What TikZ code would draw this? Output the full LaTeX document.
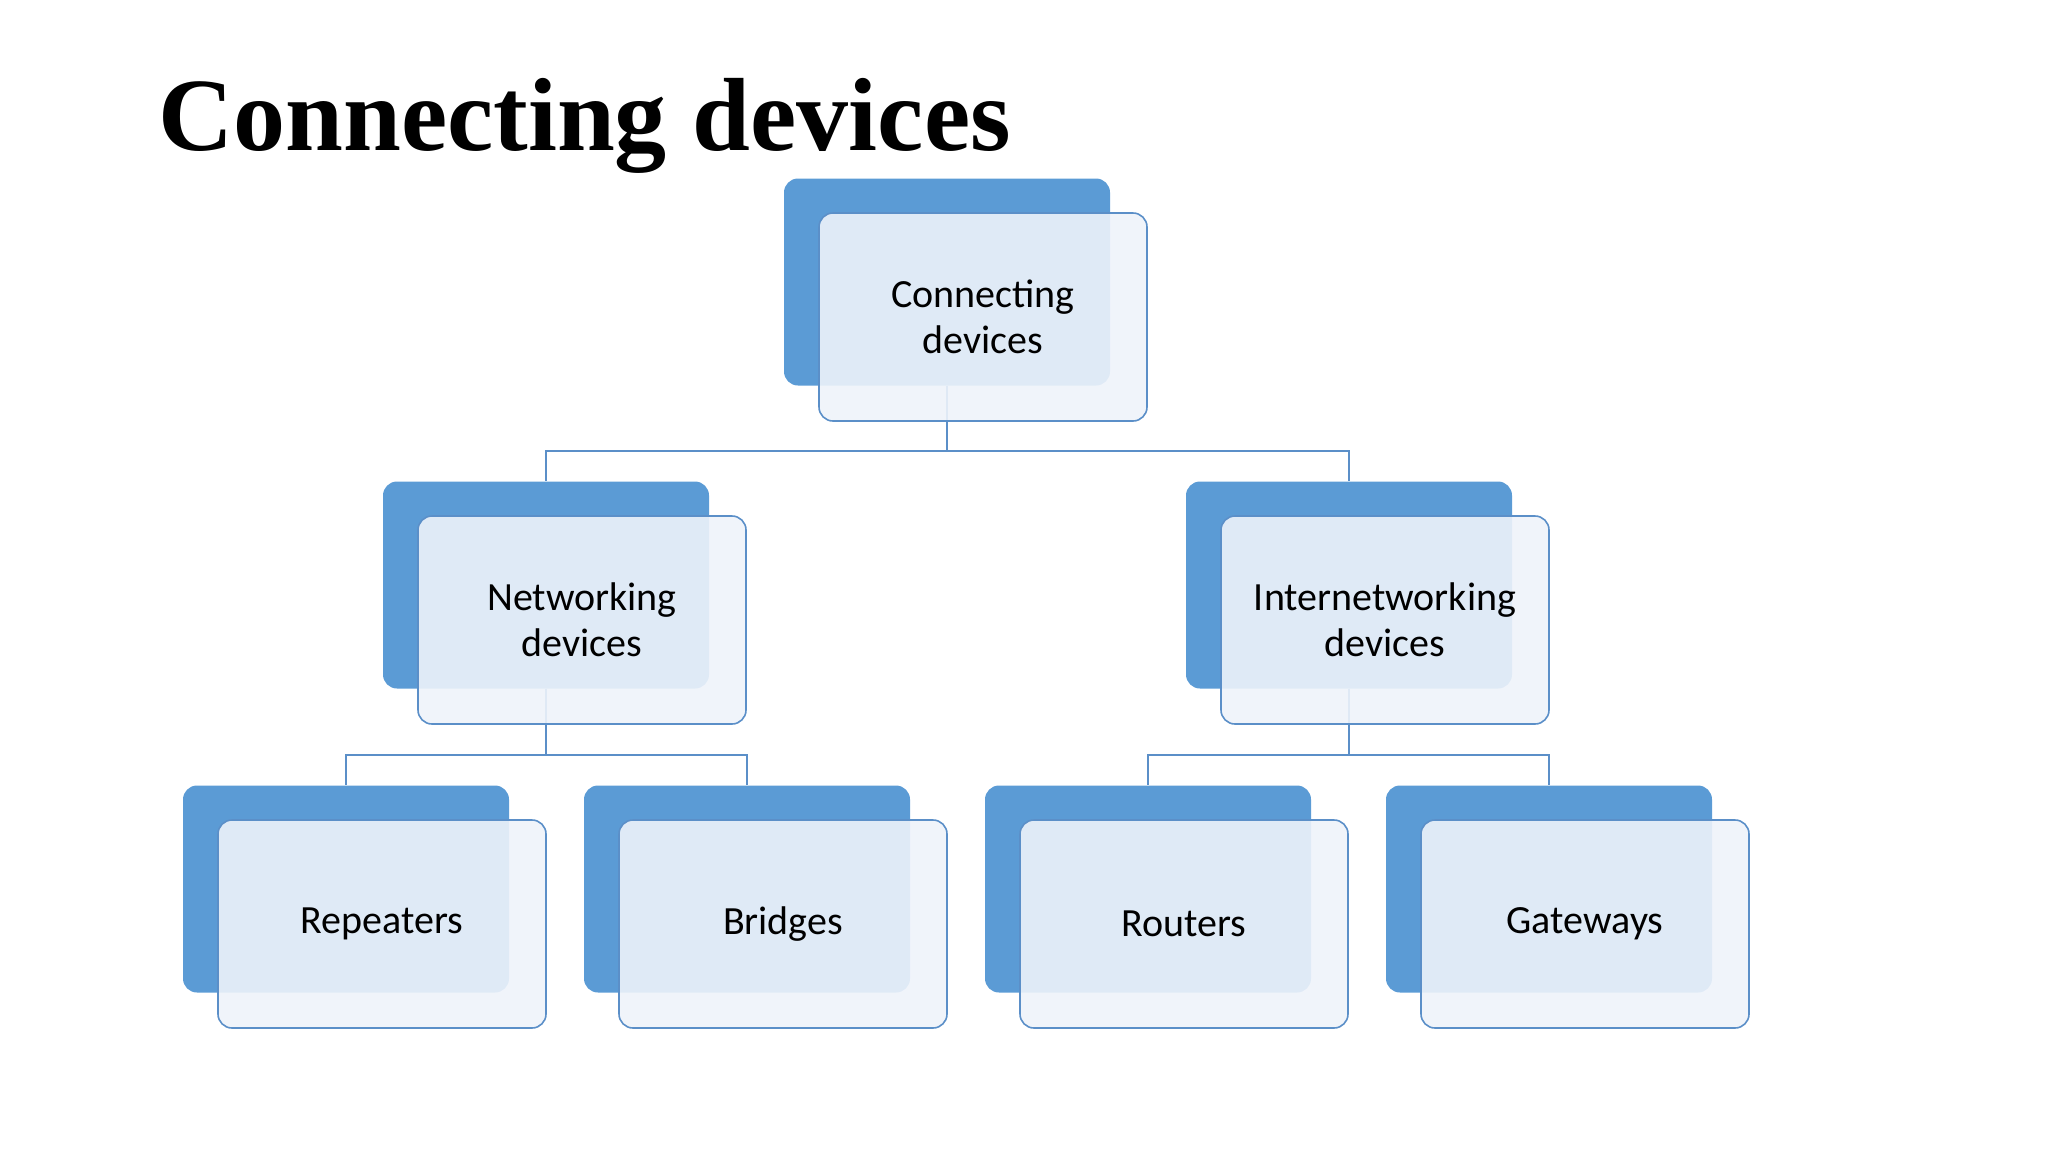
\documentclass[tikz,border=0pt]{standalone}
\usepackage{fontspec}
\setmainfont{Carlito}
\newfontfamily\titlefont{Liberation Serif}
\usetikzlibrary{positioning}
\definecolor{boxblue}{HTML}{5B9BD5}
\definecolor{boxlight}{HTML}{EEF3FA}
\definecolor{lineblue}{HTML}{5B8FC8}
\begin{document}
\begin{tikzpicture}[
            x=1pt, y=-1pt,
            back/.style = {fill=boxblue, rounded corners=14pt, minimum width=326pt, minimum height=207pt, inner sep=0pt},
            front/.style = {draw=lineblue, line width=1.6pt, fill=boxlight, fill opacity=0.9, text opacity=1,
                            rounded corners=14pt, minimum width=328pt, minimum height=208pt, inner sep=0pt,
                            align=center, font=\fontsize{40}{46}\selectfont},
            line/.style = {draw=lineblue, line width=1.6pt},
            ]
            \useasboundingbox (0,0) rectangle (2048,1152);
            \node[anchor=base west, font=\titlefont\bfseries\fontsize{104}{110}\selectfont] (title) at (155,150) {Connecting devices};

            % shadow boxes
            \foreach \name/\cx/\cy in {cd/983/317, nd/582/620, id/1385/620,
                                       rp/382/924, br/783/924, ro/1184/924, gw/1585/924}
                \node[back] (\name b) at (\cx-36,\cy-35) {};

            % tree lines
            \coordinate (j1) at (947,451);
            \coordinate (j2) at (546,755);
            \coordinate (j3) at (1349,755);
            \draw[line] (cdb.south) -- (j1) -| (ndb.north);
            \draw[line] (j1) -| (idb.north);
            \draw[line] (ndb.south) -- (j2) -| (rpb.north);
            \draw[line] (j2) -| (brb.north);
            \draw[line] (idb.south) -- (j3) -| (rob.north);
            \draw[line] (j3) -| (gwb.north);

            % front boxes
            \node[front] (cd) at (983,317) {Connecting\\devices};
            \node[front] (nd) at (582,620) {Networking\\devices};
            \node[front] (id) at (1385,620) {Internetworking\\devices};
            \node[front] (rp) at (382,924) {Repeaters};
            \node[front] (br) at (783,924) {Bridges};
            \node[front] (ro) at (1184,924) {Routers};
            \node[front] (gw) at (1585,924) {Gateways};
        \end{tikzpicture}
\end{document}
